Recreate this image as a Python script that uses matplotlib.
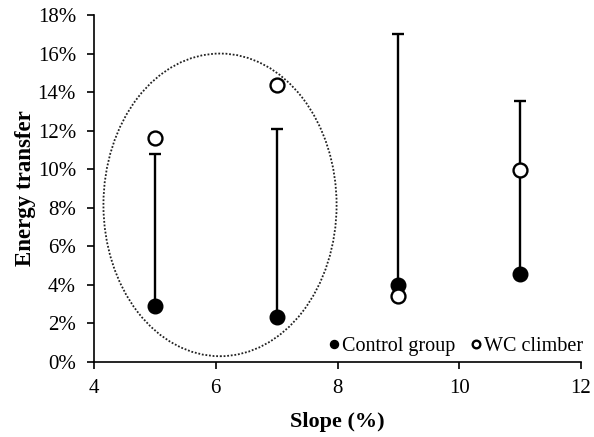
import matplotlib
matplotlib.use("Agg")
import matplotlib.pyplot as plt
from matplotlib.patches import Ellipse
from matplotlib.ticker import FuncFormatter

slopes = [5, 7, 9, 11]
control = [2.9, 2.35, 4.0, 4.55]
control_upper = [10.8, 12.1, 17.0, 13.55]
wc_climber = [11.6, 14.35, 3.42, 9.95]

plt.rcParams['font.family'] = ['Liberation Serif', 'DejaVu Serif']

fig = plt.figure(figsize=(5.94, 4.37), dpi=100)
ax = fig.add_axes([94/594, 1-362/437, (581-94)/594, (362-15)/437])

yerr_up = [u - c for u, c in zip(control_upper, control)]
yerr_lo = [0]*len(control)
ax.errorbar(slopes, control, yerr=[yerr_lo, yerr_up], fmt='none', ecolor='black',
            elinewidth=1.7, capsize=4.5, capthick=1.7, zorder=2)
ax.plot(slopes, control, 'o', color='black', markersize=10.5, zorder=3,
        label='Control group')
ax.plot(slopes, wc_climber, 'o', markerfacecolor='white', markeredgecolor='black',
        markeredgewidth=1.7, markersize=10, zorder=4, label='WC climber')

ell = Ellipse((6.07, 8.15), 3.83, 15.7, fill=False, edgecolor='#222222',
              linestyle=(0, (1, 1)), linewidth=1.3, zorder=1)
ax.add_patch(ell)

ax.set_xlim(4, 12)
ax.set_ylim(0, 18)
ax.set_xticks([4, 6, 8, 10, 12])
ax.set_yticks(range(0, 19, 2))
ax.yaxis.set_major_formatter(FuncFormatter(lambda v, p: f"{int(round(v))}%"))
ax.spines['top'].set_visible(False)
ax.spines['right'].set_visible(False)
for s in ['left', 'bottom']:
    ax.spines[s].set_linewidth(1.2)
ax.tick_params(direction='out', length=5, width=1.2, labelsize=15, colors='black')
ax.tick_params(axis='y', pad=8)
ax.tick_params(axis='x', pad=7)

ax.set_xlabel('Slope (%)', fontsize=16, fontweight='bold', labelpad=10)
ax.set_ylabel('Energy transfer', fontsize=16.5, fontweight='bold', labelpad=1)

leg = ax.legend(loc='lower right', ncol=2, frameon=False, fontsize=14.5,
                handlelength=0.4, handletextpad=0.2, columnspacing=0.8,
                markerscale=0.55, borderaxespad=0.0, bbox_to_anchor=(1.02, -0.005))

fig.savefig('out.png', dpi=100)
